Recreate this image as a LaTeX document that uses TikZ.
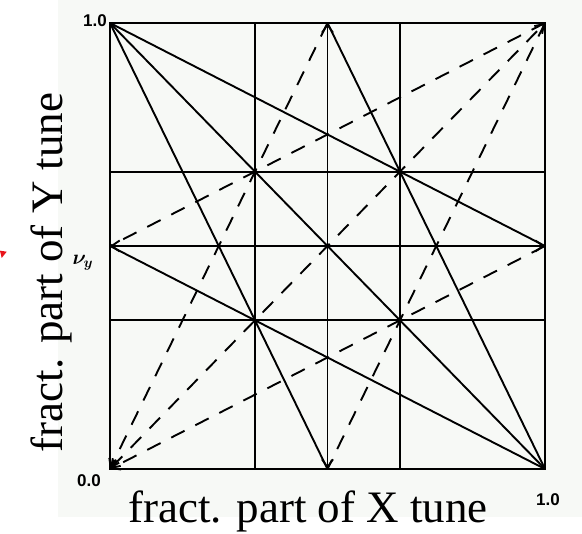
\documentclass[tikz,border=0pt]{standalone}
\usepackage{amsmath}
\usepackage{fontspec}
\setmainfont{Liberation Serif}
\newfontfamily\tickfont{Liberation Sans}
\usetikzlibrary{arrows.meta}
\definecolor{scanbg}{HTML}{F7F9F6}
\definecolor{markred}{HTML}{E8141B}

\begin{document}
\begin{tikzpicture}[x=1pt,y=1pt,>={Straight Barb[length=8pt,width=11pt]},
  frame/.style={line width=2pt},
  res/.style={line width=1.9pt},
  dres/.style={line width=1.9pt,dash pattern=on 15pt off 12pt},
  tick/.style={font=\tickfont\bfseries\fontsize{17}{17}\selectfont},
  axis/.style={font=\fontsize{45}{45}\selectfont}]
  \useasboundingbox (0,0) rectangle (582,534);
  \fill[scanbg] (58,17) rectangle (582,534);
  \begin{scope}[shift={(110,65)},x=435pt,y=446pt]
    \coordinate (SW) at (0,0);
    \coordinate (SE) at (1,0);
    \coordinate (NE) at (1,1);
    \coordinate (NW) at (0,1);
    \coordinate (S) at (0.5,0);
    \coordinate (N) at (0.5,1);
    \coordinate (W) at (0,0.5);
    \coordinate (E) at (1,0.5);
    \coordinate (b1) at (1/3,0);
    \coordinate (t1) at (1/3,1);
    \coordinate (b2) at (2/3,0);
    \coordinate (t2) at (2/3,1);
    \coordinate (l1) at (0,1/3);
    \coordinate (r1) at (1,1/3);
    \coordinate (l2) at (0,2/3);
    \coordinate (r2) at (1,2/3);
  \end{scope}
  % grid and frame
  \foreach \a/\b in {b1/t1,b2/t2,l1/r1,l2/r2} \draw[res] (\a) -- (\b);
  \draw[frame] (SW) -- (SE) -- (NE) -- (NW) -- cycle;
  \draw[res,<->] (W) -- (E);
  \draw[res,<->] (S) -- (N);
  % solid resonance lines
  \foreach \a/\b in {NW/SE,NW/S,NW/E,SE/W,SE/N} \draw[res] (\a) -- (\b);
  % dashed resonance lines
  \foreach \a/\b in {N/SW,E/SW} \draw[dres,->] (\a) -- (\b);
  \draw[dres,<->] (SW) -- (NE);
  \foreach \a/\b in {NE/S,NE/W} \draw[dres] (\a) -- (\b);
  % labels
  \node[tick] (top) at (95,513) {1.0};
  \node[tick] (org) at (89,53) {0.0};
  \node[tick] (right) at (548,34) {1.0};
  \node (nuy) at (83,271) {\fontsize{21}{21}\selectfont$\boldsymbol{\nu}_{\!\boldsymbol{y}}$};
  \node[axis,anchor=base] (xlab) at (308,11) {fract. part of X tune};
  \node[axis,anchor=base,rotate=90] (ylab) at (62,261.5) {fract. part of Y tune};
  \fill[markred] (0,283.3) -- (6.7,282.3) -- (1.7,276) -- cycle;
\end{tikzpicture}
\end{document}
